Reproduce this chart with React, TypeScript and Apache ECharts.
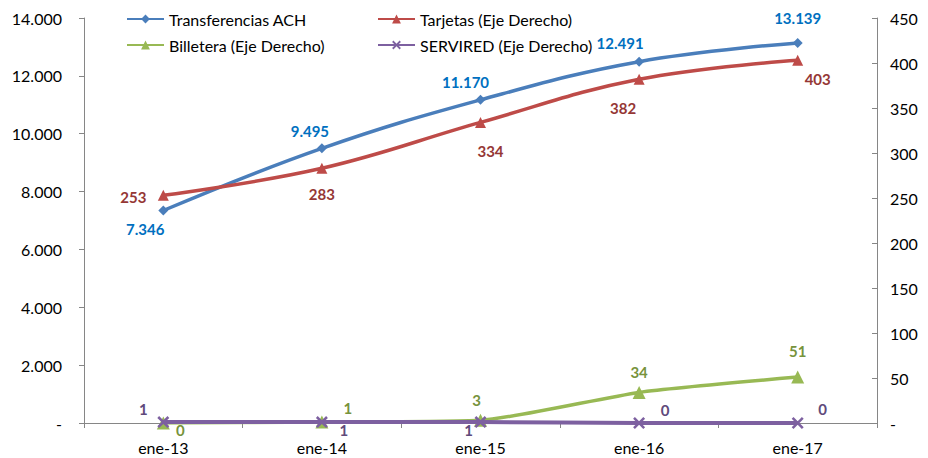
import React, { useEffect, useRef } from "react";
import * as echarts from "echarts";

const categories = ["ene-13", "ene-14", "ene-15", "ene-16", "ene-17"];
const achValues = [7346, 9495, 11170, 12491, 13139];
const tarjetasValues = [253, 283, 334, 382, 403];
const billeteraValues = [0, 1, 3, 34, 51];
const serviredValues = [1, 1, 1, 0, 0];

const seriesNames = [
  "Transferencias ACH",
  "Tarjetas (Eje Derecho)",
  "Billetera (Eje Derecho)",
  "SERVIRED (Eje Derecho)",
];

// label offsets (style, relative to the point)
const achOffsets = [[-18, 19], [-12, -17], [-15, -18], [-19, -19], [0, -25]];
const tarjetasOffsets = [[-30, 2], [0, 26], [10, 29], [-16, 29], [20, 19]];
const billeteraOffsets = [[17, 7], [26, -14], [-4, -20], [0, -20], [0, -26]];
const serviredOffsets = [[-20, -13], [22, 8], [-12, 8], [26, -13], [25, -14]];

const FONT = "Lato, 'Open Sans', sans-serif";
const fmtThousands = (v: number) =>
  v === 0 ? "-" : String(Math.round(v)).replace(/\B(?=(\d{3})+(?!\d))/g, ".");

const X_SYMBOL =
  "path://M0,1.5 L1.5,0 L5,3.5 L8.5,0 L10,1.5 L6.5,5 L10,8.5 L8.5,10 L5,6.5 L1.5,10 L0,8.5 L3.5,5 Z";

function mkData(values: number[], offsets: number[][], color: string, fmt: (v: number) => string) {
  return values.map((v, i) => ({
    value: v,
    label: {
      show: true,
      position: "inside",
      align: "center",
      verticalAlign: "middle",
      offset: offsets[i],
      color,
      fontFamily: FONT,
      fontWeight: "bold",
      fontSize: 15,
      lineHeight: 15,
      formatter: () => fmt(v),
    },
  }));
}

export default function App() {
  const ref = useRef<HTMLDivElement>(null);
  useEffect(() => {
    if (!ref.current) return;
    const chart = echarts.init(ref.current, undefined, { renderer: "svg" });
    const axisColor = "#868686";
    const legendBase = {
      itemWidth: 37,
      itemHeight: 11,
      textStyle: { fontFamily: FONT, fontSize: 16, color: "#000" },
      padding: 0,
    };
    chart.setOption({
      animation: false,
      backgroundColor: "#fff",
      grid: { left: 84, right: 51, top: 18, bottom: 35, containLabel: false },
      legend: [
        { ...legendBase, data: [seriesNames[0]], left: 126, top: 11 },
        { ...legendBase, data: [seriesNames[1]], left: 377, top: 11 },
        { ...legendBase, data: [seriesNames[2]], left: 126, top: 37 },
        { ...legendBase, data: [seriesNames[3]], left: 377, top: 37 },
      ],
      xAxis: {
        type: "category",
        data: categories,
        boundaryGap: true,
        axisLine: { lineStyle: { color: axisColor, width: 1 } },
        axisTick: { show: true, length: 5, alignWithLabel: false, lineStyle: { color: axisColor } },
        axisLabel: { fontFamily: FONT, fontSize: 16, lineHeight: 16, color: "#000", margin: 16 },
      },
      yAxis: [
        {
          type: "value",
          min: 0,
          max: 14000,
          interval: 2000,
          splitLine: { show: false },
          axisLine: { show: true, lineStyle: { color: axisColor } },
          axisTick: { show: true, length: 5, lineStyle: { color: axisColor } },
          axisLabel: {
            fontFamily: FONT,
            fontSize: 16,
            color: "#000",
            margin: 22,
            formatter: (v: number) => fmtThousands(v),
          },
        },
        {
          type: "value",
          min: 0,
          max: 450,
          interval: 50,
          position: "right",
          splitLine: { show: false },
          axisLine: { show: true, lineStyle: { color: axisColor } },
          axisTick: { show: true, inside: true, length: 5, lineStyle: { color: axisColor } },
          axisLabel: {
            fontFamily: FONT,
            fontSize: 16,
            color: "#000",
            margin: 13,
            formatter: (v: number) => (v === 0 ? "-" : String(v)),
          },
        },
      ],
      series: [
        {
          name: seriesNames[0],
          type: "line",
          yAxisIndex: 0,
          smooth: 0.4,
          symbol: "diamond",
          symbolSize: 10,
          color: "#4A7EBB",
          lineStyle: { width: 3.5, color: "#4A7EBB" },
          itemStyle: { color: "#4A7EBB" },
          data: mkData(achValues, achOffsets, "#0070C0", fmtThousands),
          z: 3,
        },
        {
          name: seriesNames[1],
          type: "line",
          yAxisIndex: 1,
          smooth: 0.4,
          symbol: "triangle",
          symbolSize: 11,
          color: "#BE4B48",
          lineStyle: { width: 3.5, color: "#BE4B48" },
          itemStyle: { color: "#BE4B48" },
          data: mkData(tarjetasValues, tarjetasOffsets, "#953735", (v) => String(v)),
          z: 3,
        },
        {
          name: seriesNames[2],
          type: "line",
          yAxisIndex: 1,
          smooth: 0.2,
          symbol: "triangle",
          symbolSize: 13,
          color: "#98B954",
          lineStyle: { width: 3.5, color: "#98B954" },
          itemStyle: { color: "#98B954" },
          data: mkData(billeteraValues, billeteraOffsets, "#77933C", (v) => String(v)),
          z: 3,
        },
        {
          name: seriesNames[3],
          type: "line",
          yAxisIndex: 1,
          smooth: 0.2,
          symbol: X_SYMBOL,
          symbolSize: 12,
          color: "#7D60A0",
          lineStyle: { width: 4, color: "#7D60A0" },
          itemStyle: { color: "#7D60A0" },
          data: mkData(serviredValues, serviredOffsets, "#604A7B", (v) => String(v)),
          z: 4,
        },
      ],
    });
    return () => chart.dispose();
  }, []);
  return (
    <div
      ref={ref}
      style={{ position: "absolute", left: 0, top: 0, width: 928, height: 458 }}
    />
  );
}
